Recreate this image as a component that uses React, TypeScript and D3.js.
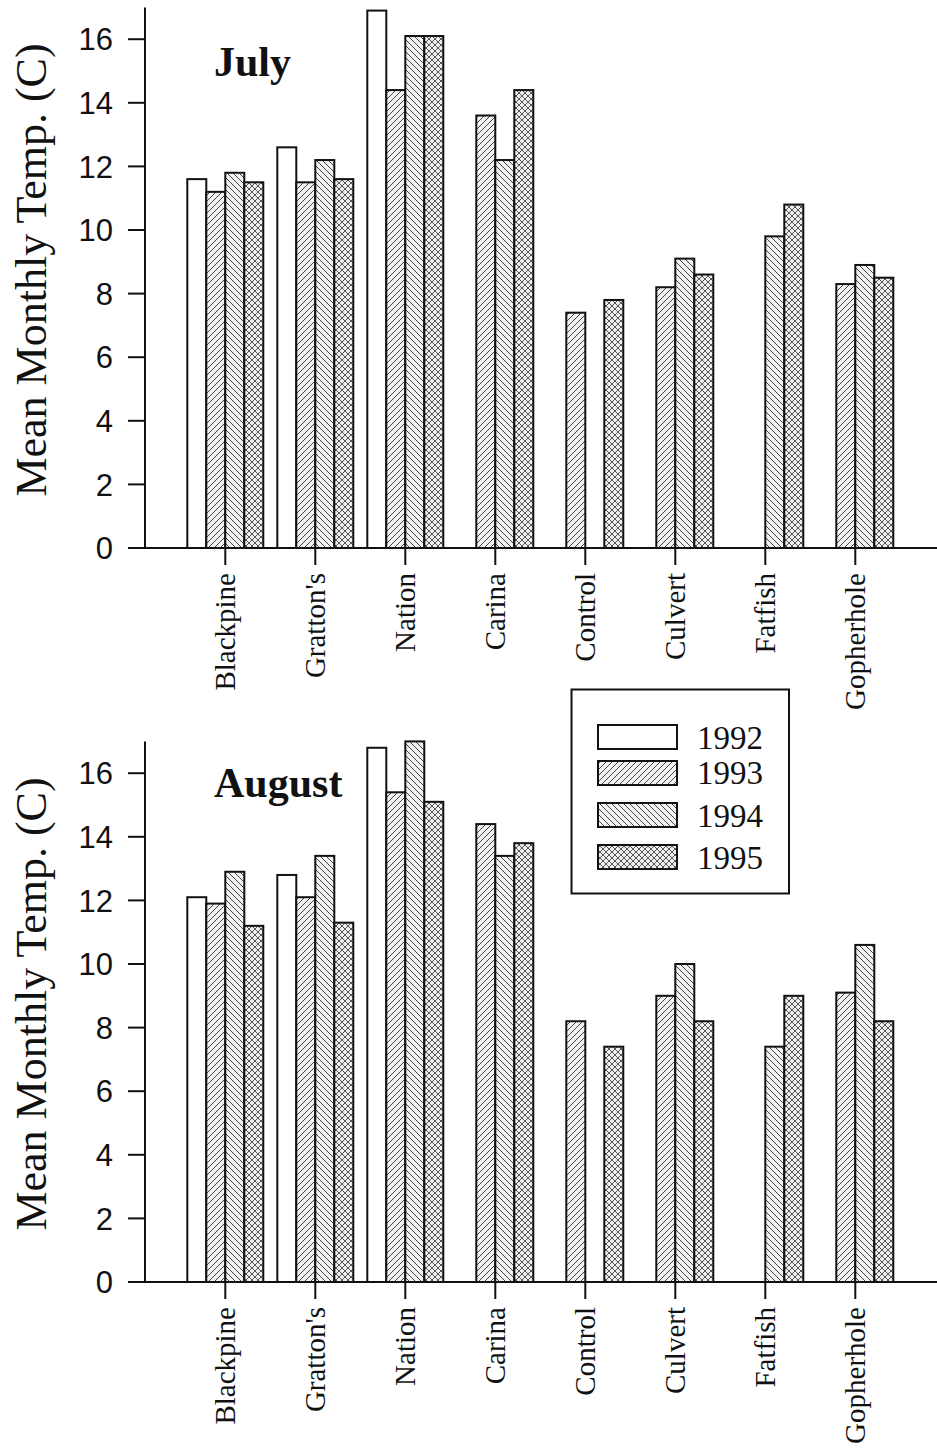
import React from "react";
import * as d3 from "d3";

const categories = ["Blackpine", "Gratton's", "Nation", "Carina", "Control", "Culvert", "Fatfish", "Gopherhole"];
const years = ["1992", "1993", "1994", "1995"];

const july1992 = [11.6, 12.6, 16.9, null, null, null, null, null];
const july1993 = [11.2, 11.5, 14.4, 13.6, 7.4, 8.2, null, 8.3];
const july1994 = [11.8, 12.2, 16.1, 12.2, null, 9.1, 9.8, 8.9];
const july1995 = [11.5, 11.6, 16.1, 14.4, 7.8, 8.6, 10.8, 8.5];

const aug1992 = [12.1, 12.8, 16.8, null, null, null, null, null];
const aug1993 = [11.9, 12.1, 15.4, 14.4, 8.2, 9.0, null, 9.1];
const aug1994 = [12.9, 13.4, 17.0, 13.4, null, 10.0, 7.4, 10.6];
const aug1995 = [11.2, 11.3, 15.1, 13.8, 7.4, 8.2, 9.0, 8.2];

const yTicks = [0, 2, 4, 6, 8, 10, 12, 14, 16];

const panels = [
  { title: "July", offset: 0, series: [july1992, july1993, july1994, july1995] },
  { title: "August", offset: 734, series: [aug1992, aug1993, aug1994, aug1995] },
];

const fills = ["#ffffff", "url(#p1993)", "url(#p1994)", "url(#p1995)"];

const SERIF = "'Liberation Serif', 'Times New Roman', serif";
const SANS = "'Liberation Sans', Arial, sans-serif";

export default function App() {
  const W = 937;
  const H = 1454;
  const axisX = 145;
  const x = d3.scaleBand<string>().domain(categories).range([180.3, 900.3]).paddingInner(0).paddingOuter(0);
  const xi = d3.scaleBand<string>().domain(years).range([7, 83]);
  const y = d3.scaleLinear().domain([0, 17]).range([548, 7.4]);

  const legendRows = [
    { year: "1992", top: 725, base: 749 },
    { year: "1993", top: 761, base: 784 },
    { year: "1994", top: 803, base: 827 },
    { year: "1995", top: 845, base: 869 },
  ];

  return (
    <svg width={W} height={H} style={{ position: "absolute", left: 0, top: 0, background: "#fff" }}>
      <defs>
        <pattern id="p1993" patternUnits="userSpaceOnUse" width="6" height="6">
          <rect width="6" height="6" fill="#f2f2f2" />
          <path d="M-1,1 l2,-2 M0,6 l6,-6 M5,7 l2,-2" stroke="#444" strokeWidth="1" />
        </pattern>
        <pattern id="p1994" patternUnits="userSpaceOnUse" width="6" height="6">
          <rect width="6" height="6" fill="#f2f2f2" />
          <path d="M-1,5 l2,2 M0,0 l6,6 M5,-1 l2,2" stroke="#444" strokeWidth="1" />
        </pattern>
        <pattern id="p1995" patternUnits="userSpaceOnUse" width="6" height="6">
          <rect width="6" height="6" fill="#eeeeee" />
          <path d="M-1,1 l2,-2 M0,6 l6,-6 M5,7 l2,-2 M-1,5 l2,2 M0,0 l6,6 M5,-1 l2,2" stroke="#444" strokeWidth="0.9" />
        </pattern>
      </defs>

      {panels.map((p) => (
        <g key={p.title} transform={`translate(0,${p.offset})`}>
          {/* bars */}
          {p.series.map((vals, si) =>
            vals.map((v, ci) =>
              v == null ? null : (
                <rect
                  key={`${si}-${ci}`}
                  x={(x(categories[ci]) as number) + (xi(years[si]) as number)}
                  y={y(v)}
                  width={xi.bandwidth()}
                  height={y(0) - y(v)}
                  fill={fills[si]}
                  stroke="#111"
                  strokeWidth={2}
                />
              )
            )
          )}
          {/* y axis */}
          <line x1={axisX} x2={axisX} y1={y(17)} y2={y(0)} stroke="#111" strokeWidth={2} />
          {yTicks.map((t) => (
            <g key={t}>
              <line x1={128} x2={axisX} y1={y(t)} y2={y(t)} stroke="#111" strokeWidth={2} />
              <text
                x={113}
                y={y(t)}
                dy="0.36em"
                textAnchor="end"
                fontFamily={SANS}
                fontSize={31}
                fill="#111"
              >
                {t}
              </text>
            </g>
          ))}
          {/* x axis */}
          <line x1={128} x2={W} y1={y(0)} y2={y(0)} stroke="#111" strokeWidth={2} />
          {categories.map((c) => {
            const cx = (x(c) as number) + x.bandwidth() / 2;
            return (
              <g key={c}>
                <line x1={cx} x2={cx} y1={y(0)} y2={y(0) + 17} stroke="#111" strokeWidth={2} />
                <text
                  transform={`translate(${cx},${y(0) + 25}) rotate(-90)`}
                  textAnchor="end"
                  dy="0.35em"
                  fontFamily={SERIF}
                  fontSize={29}
                  fill="#111"
                >
                  {c}
                </text>
              </g>
            );
          })}
          {/* y title */}
          <text
            transform={`translate(46,270) rotate(-90)`}
            textAnchor="middle"
            fontFamily={SERIF}
            fontSize={44}
            fill="#111"
          >
            Mean Monthly Temp. (C)
          </text>
          {/* panel title */}
          <text x={214} y={p.title === "July" ? 76 : 63} fontFamily={SERIF} fontWeight="bold" fontSize={42} fill="#111">
            {p.title}
          </text>
        </g>
      ))}

      {/* legend */}
      <rect x={571.5} y={689.5} width={217.5} height={204} fill="#fff" stroke="#111" strokeWidth={2} />
      {legendRows.map((r, i) => (
        <g key={r.year}>
          <rect x={598} y={r.top} width={79} height={24} fill={fills[i]} stroke="#111" strokeWidth={2} />
          <text x={697} y={r.base} fontFamily={SERIF} fontSize={33} fill="#111">
            {r.year}
          </text>
        </g>
      ))}
    </svg>
  );
}
